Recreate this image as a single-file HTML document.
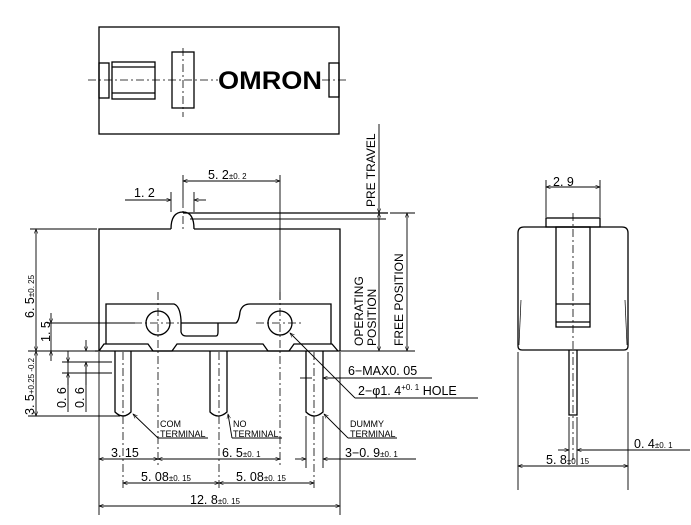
<!DOCTYPE html>
<html><head><meta charset="utf-8"><style>
html,body{margin:0;padding:0;background:#fff;}
svg{display:block}
text{font-family:"Liberation Sans",sans-serif;fill:#000}
</style></head><body>
<svg width="691" height="525" viewBox="0 0 691 525" xmlns="http://www.w3.org/2000/svg">
<defs>
<marker id="a" viewBox="0 0 10 10" refX="10" refY="5" markerWidth="7" markerHeight="5" orient="auto-start-reverse"><path d="M0,1 L10,5 L0,9" fill="none" stroke="#000" stroke-width="1.2"/></marker>
</defs>
<g fill="none" stroke="#000" stroke-width="1.3">
<!-- top view -->
<rect x="99" y="27" width="240" height="107"/>
<rect x="99" y="63" width="10" height="35"/>
<rect x="112" y="62" width="43" height="37"/>
<line x1="112" y1="67" x2="155" y2="67"/><line x1="112" y1="93" x2="155" y2="93"/>
<rect x="172" y="52" width="22" height="56"/>
<rect x="329" y="63" width="10" height="34"/>
</g>
<g fill="none" stroke="#000" stroke-width="0.8" stroke-dasharray="8,3,2,3">
<line x1="88" y1="80" x2="218" y2="80"/><line x1="322" y1="80" x2="348" y2="80"/>
<line x1="183" y1="48" x2="183" y2="117"/>
</g>
<text x="270" y="89" font-size="25" font-weight="bold" text-anchor="middle" textLength="104" lengthAdjust="spacingAndGlyphs">OMRON</text>

<!-- side view -->
<g fill="none" stroke="#000" stroke-width="1.3">
<path d="M99,351 L99,229 L171,229 M194,229 L340,229 L340,351"/>
<path d="M171,229 Q171,212 183,212 Q194,212 194,229"/>
<line x1="183" y1="213" x2="388" y2="213"/>
<line x1="190" y1="219" x2="386" y2="219" stroke-width="1"/>
<path d="M106,344 L106,304 L174,304 Q180,306 181,320 L181,332 Q182,336 186,336 L216,336 Q218,336 218,332 L218,323 L181,323 M218,323 L236,323 Q239,321 240,312 Q242,304 250,304 L331,304 L331,344"/>
<path d="M99,351 L104,344 L148,344 L153,351 L172,351 L177,344 L263,344 L268,351 L289,351 L294,344 L332,344 L338,351"/>
<line x1="95" y1="351" x2="340" y2="351"/>
<circle cx="158" cy="323" r="12"/><circle cx="280" cy="323" r="12"/>
<!-- pins -->
<path d="M115,351 L115,412 Q123,420 131,412 L131,351"/>
<path d="M210,351 L210,412 Q218,420 227,412 L227,351"/>
<path d="M306,351 L306,412 Q314,420 323,412 L323,351"/>
</g>
<g fill="none" stroke="#000" stroke-width="0.8" stroke-dasharray="8,3,2,3">
<line x1="158" y1="292" x2="158" y2="468"/><line x1="280" y1="292" x2="280" y2="468"/>
<line x1="134" y1="323" x2="182" y2="323"/><line x1="256" y1="323" x2="304" y2="323"/>
<line x1="123" y1="352" x2="123" y2="490"/><line x1="219" y1="352" x2="219" y2="490"/><line x1="314" y1="352" x2="314" y2="490"/>
<line x1="183" y1="200" x2="183" y2="232"/>
</g>
<!-- dimension lines -->
<g fill="none" stroke="#000" stroke-width="0.9">
<line x1="280" y1="175" x2="280" y2="300"/>
<line x1="183" y1="175" x2="183" y2="200"/>
<line x1="183" y1="181" x2="280" y2="181" marker-start="url(#a)" marker-end="url(#a)"/>
<line x1="171" y1="192" x2="171" y2="212"/><line x1="194" y1="192" x2="194" y2="212"/>
<line x1="125" y1="200" x2="171" y2="200" marker-end="url(#a)"/>
<line x1="206" y1="200" x2="194" y2="200" marker-end="url(#a)"/>
<!-- left -->
<line x1="30" y1="229" x2="97" y2="229"/>
<line x1="28" y1="351" x2="146" y2="351"/>
<line x1="28" y1="416" x2="120" y2="416"/>
<line x1="36" y1="229" x2="36" y2="351" marker-start="url(#a)" marker-end="url(#a)"/>
<line x1="36" y1="351" x2="36" y2="416" marker-start="url(#a)" marker-end="url(#a)"/>
<line x1="47" y1="323" x2="135" y2="323"/>
<line x1="51" y1="313" x2="51" y2="323" marker-end="url(#a)"/>
<line x1="51" y1="361" x2="51" y2="351" marker-end="url(#a)"/>
<line x1="51" y1="323" x2="51" y2="351"/>
<line x1="62" y1="362" x2="112" y2="362"/><line x1="62" y1="373" x2="112" y2="373"/>
<line x1="68" y1="351" x2="68" y2="362" marker-end="url(#a)"/>
<line x1="68" y1="385" x2="68" y2="373" marker-end="url(#a)"/>
<line x1="68" y1="362" x2="68" y2="412"/>
<line x1="86" y1="340" x2="86" y2="351" marker-end="url(#a)"/>
<line x1="86" y1="385" x2="86" y2="362" marker-end="url(#a)"/>
<line x1="86" y1="362" x2="86" y2="412"/>
<!-- right -->
<line x1="379" y1="124" x2="379" y2="213" marker-end="url(#a)"/>
<line x1="379" y1="213" x2="379" y2="351" marker-start="url(#a)" marker-end="url(#a)"/>
<line x1="407" y1="213" x2="407" y2="351" marker-start="url(#a)" marker-end="url(#a)"/>
<line x1="340" y1="351" x2="415" y2="351"/>
<line x1="390" y1="213" x2="415" y2="213"/>
<line x1="345" y1="378" x2="432" y2="378"/>
<line x1="355" y1="398" x2="478" y2="398"/>
<line x1="355" y1="398" x2="290" y2="333" marker-end="url(#a)"/>
<line x1="345" y1="378" x2="323" y2="378" marker-end="url(#a)"/>
<line x1="312" y1="378" x2="300" y2="378"/>
<!-- leaders -->
<line x1="158" y1="438" x2="133" y2="414" marker-end="url(#a)"/>
<line x1="158" y1="438" x2="208" y2="438"/>
<line x1="232" y1="438" x2="228" y2="414" marker-end="url(#a)"/>
<line x1="232" y1="438" x2="282" y2="438"/>
<line x1="348" y1="438" x2="324" y2="414" marker-end="url(#a)"/>
<line x1="348" y1="438" x2="397" y2="438"/>
<!-- bottom -->
<line x1="99" y1="352" x2="99" y2="515"/><line x1="340" y1="352" x2="340" y2="515"/>
<line x1="99" y1="459" x2="158" y2="459" marker-start="url(#a)" marker-end="url(#a)"/>
<line x1="158" y1="459" x2="280" y2="459" marker-start="url(#a)" marker-end="url(#a)"/>
<line x1="295" y1="459" x2="306" y2="459" marker-end="url(#a)"/>
<line x1="416" y1="459" x2="323" y2="459" marker-end="url(#a)"/>
<line x1="306" y1="416" x2="306" y2="468"/><line x1="323" y1="416" x2="323" y2="468"/>
<line x1="123" y1="483" x2="219" y2="483" marker-start="url(#a)" marker-end="url(#a)"/>
<line x1="219" y1="483" x2="314" y2="483" marker-start="url(#a)" marker-end="url(#a)"/>
<line x1="99" y1="506" x2="340" y2="506" marker-start="url(#a)" marker-end="url(#a)"/>
</g>
<!-- end view -->
<g fill="none" stroke="#000" stroke-width="1.3">
<path d="M524,227 L622,227 Q628,227 628,233 L628,346 Q628,350 624,350 L522,350 Q518,350 518,346 L518,233 Q518,227 524,227 Z"/>
<rect x="546" y="218" width="54" height="9"/>
<rect x="556" y="227" width="34" height="100"/>
<line x1="556" y1="304" x2="590" y2="304"/><line x1="556" y1="322" x2="590" y2="322"/>
<path d="M569,350 L569,415 L577,415 L577,350"/>
<line x1="521" y1="300" x2="519" y2="345" stroke-width="0.7"/><line x1="625" y1="300" x2="627" y2="345" stroke-width="0.7"/>
</g>
<g fill="none" stroke="#000" stroke-width="0.8" stroke-dasharray="8,3,2,3">
<line x1="573" y1="213" x2="573" y2="460"/>
</g>
<g fill="none" stroke="#000" stroke-width="0.9">
<line x1="546" y1="180" x2="546" y2="217"/><line x1="600" y1="180" x2="600" y2="217"/>
<line x1="546" y1="187" x2="600" y2="187" marker-start="url(#a)" marker-end="url(#a)"/>
<line x1="518" y1="352" x2="518" y2="490"/><line x1="628" y1="352" x2="628" y2="490"/>
<line x1="518" y1="466" x2="628" y2="466" marker-start="url(#a)" marker-end="url(#a)"/>
<line x1="569" y1="417" x2="569" y2="465"/><line x1="577" y1="417" x2="577" y2="465"/>
<line x1="558" y1="450" x2="569" y2="450" marker-end="url(#a)"/>
<line x1="690" y1="450" x2="577" y2="450" marker-end="url(#a)"/>
</g>
<!-- text -->
<g font-size="12.5">
<text x="208" y="179">5. 2<tspan font-size="8">±0. 2</tspan></text>
<text x="134" y="197">1. 2</text>
<text x="553" y="186">2. 9</text>
<text transform="translate(375,207) rotate(-90)" font-size="12">PRE TRAVEL</text>
<text transform="translate(363,346) rotate(-90)" font-size="12">OPERATING</text>
<text transform="translate(376,346) rotate(-90)" font-size="12">POSITION</text>
<text transform="translate(403,346) rotate(-90)" font-size="12">FREE POSITION</text>
<text transform="translate(34,318) rotate(-90)">6. 5<tspan font-size="8">±0. 25</tspan></text>
<text transform="translate(50,342) rotate(-90)">1. 5</text>
<text transform="translate(34,415) rotate(-90)">3. 5<tspan font-size="8">+0.25 -0.2</tspan></text>
<text transform="translate(66,408) rotate(-90)">0. 6</text>
<text transform="translate(84,408) rotate(-90)">0. 6</text>
<text x="348" y="375">6−MAX0. 05</text>
<text x="358" y="395">2−φ1. 4<tspan font-size="8" dy="-5">+0. 1</tspan><tspan dy="5"> HOLE</tspan></text>
<text x="111" y="457">3. 15</text>
<text x="222" y="457">6. 5<tspan font-size="8">±0. 1</tspan></text>
<text x="345" y="457">3−0. 9<tspan font-size="8">±0. 1</tspan></text>
<text x="141" y="481">5. 08<tspan font-size="8">±0. 15</tspan></text>
<text x="236" y="481">5. 08<tspan font-size="8">±0. 15</tspan></text>
<text x="190" y="504">12. 8<tspan font-size="8">±0. 15</tspan></text>
<text x="634" y="448">0. 4<tspan font-size="8">±0. 1</tspan></text>
<text x="546" y="464">5. 8<tspan font-size="8">±0. 15</tspan></text>
</g>
<g font-size="9">
<text x="160" y="427">COM</text><text x="160" y="437">TERMINAL</text>
<text x="233" y="427">NO</text><text x="233" y="437">TERMINAL</text>
<text x="350" y="427">DUMMY</text><text x="350" y="437">TERMINAL</text>
</g>
</svg>
</body></html>
